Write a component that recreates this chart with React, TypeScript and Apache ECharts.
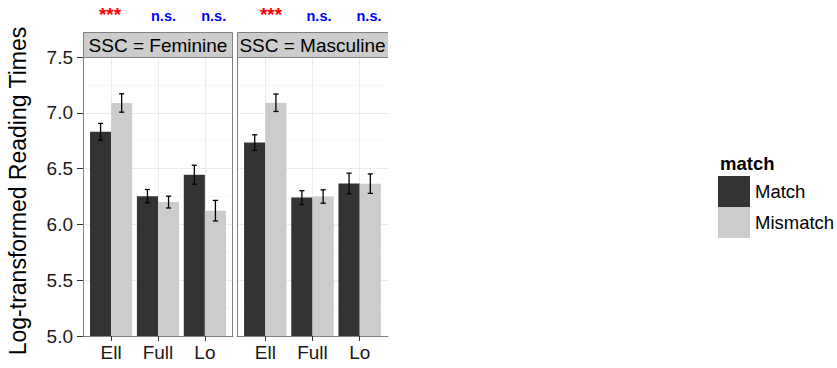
import React, { useEffect, useRef } from "react";
import * as echarts from "echarts";

const categories = ["Ell", "Full", "Lo"];
const panels = ["SSC = Feminine", "SSC = Masculine"];
const feminineMatch = [6.83, 6.253, 6.445];
const feminineMismatch = [7.088, 6.2, 6.123];
const feminineMatchErr = [0.075, 0.06, 0.085];
const feminineMismatchErr = [0.082, 0.053, 0.092];
const masculineMatch = [6.733, 6.24, 6.367];
const masculineMismatch = [7.09, 6.25, 6.365];
const masculineMatchErr = [0.07, 0.062, 0.092];
const masculineMismatchErr = [0.078, 0.06, 0.087];
const sigLabels = [
  ["***", "n.s.", "n.s."],
  ["***", "n.s.", "n.s."],
];
const yTicks = [5.0, 5.5, 6.0, 6.5, 7.0, 7.5];
const yTitle = "Log-transformed Reading Times";

const FONT = "'Liberation Sans', Arial, Helvetica, sans-serif";
const DARK = "#333333";
const LIGHT = "#cccccc";
const BORDER = "#808080";
const Y_MIN = 5.0;

const panelRects = [
  { left: 83, width: 150 },
  { left: 237, width: 151 },
];
const TOP = 57;
const HEIGHT = 279;

function barSeries(name: string, values: number[], color: string, offset: number, idx: number) {
  return {
    type: "custom",
    name,
    xAxisIndex: idx,
    yAxisIndex: idx,
    clip: true,
    itemStyle: { color },
    encode: { x: 0, y: 1 },
    data: values.map((v, i) => [i + 1, v]),
    renderItem: (params: any, api: any) => {
      const x = api.value(0);
      const v = api.value(1);
      const a = api.coord([x + offset - 0.225, v]);
      const b = api.coord([x + offset + 0.225, Y_MIN]);
      return {
        type: "rect",
        shape: { x: a[0], y: a[1], width: b[0] - a[0], height: b[1] - a[1] },
        style: { fill: color },
      };
    },
  };
}

function errSeries(values: number[], errs: number[], offset: number, idx: number) {
  return {
    type: "custom",
    xAxisIndex: idx,
    yAxisIndex: idx,
    z: 5,
    encode: { x: 0, y: [1, 2] },
    data: values.map((v, i) => [i + 1, v - errs[i], v + errs[i]]),
    renderItem: (params: any, api: any) => {
      const x = api.value(0) + offset;
      const lo = api.coord([x, api.value(1)]);
      const hi = api.coord([x, api.value(2)]);
      const c1 = api.coord([x - 0.055, api.value(1)]);
      const c2 = api.coord([x + 0.055, api.value(1)]);
      const c3 = api.coord([x - 0.055, api.value(2)]);
      const c4 = api.coord([x + 0.055, api.value(2)]);
      const st = { stroke: "#000", lineWidth: 1.3 };
      return {
        type: "group",
        children: [
          { type: "line", shape: { x1: lo[0], y1: lo[1], x2: hi[0], y2: hi[1] }, style: st },
          { type: "line", shape: { x1: c1[0], y1: c1[1], x2: c2[0], y2: c2[1] }, style: st },
          { type: "line", shape: { x1: c3[0], y1: c3[1], x2: c4[0], y2: c4[1] }, style: st },
        ],
      };
    },
  };
}

export default function App() {
  const ref = useRef<HTMLDivElement>(null);
  useEffect(() => {
    if (!ref.current) return;
    const chart = echarts.init(ref.current, null, { renderer: "svg" });

    const grids = panelRects.map((p) => ({ left: p.left, top: TOP, width: p.width, height: HEIGHT }));
    const xAxes = panelRects.map((p, i) => ({
      type: "value",
      gridIndex: i,
      min: 0.4,
      max: 3.6,
      axisLine: { show: true, onZero: false, lineStyle: { color: BORDER, width: 1 } },
      axisTick: { show: true, customValues: [1, 2, 3], length: 5, lineStyle: { color: "#333", width: 1 } },
      axisLabel: {
        show: true,
        customValues: [1, 2, 3],
        formatter: (v: number) => categories[Math.round(v) - 1],
        fontSize: 19,
        fontFamily: FONT,
        color: "#1a1a1a",
        margin: 7,
      },
      splitLine: { show: true, lineStyle: { color: "#ebebeb", width: 1 } },
    }));
    const yAxes = panelRects.map((p, i) => ({
      type: "value",
      gridIndex: i,
      min: yTicks[0],
      max: yTicks[yTicks.length - 1],
      interval: 0.5,
      axisLine: { show: true, lineStyle: { color: BORDER, width: 1 } },
      axisTick: { show: i === 0, length: 6, lineStyle: { color: "#333", width: 1 } },
      axisLabel: {
        show: i === 0,
        fontSize: 19,
        fontFamily: FONT,
        color: "#1a1a1a",
        margin: 10,
        formatter: (v: number) => v.toFixed(1),
      },
      splitLine: { show: true, lineStyle: { color: "#ebebeb", width: 1 } },
      minorTick: { show: false, splitNumber: 2 },
      minorSplitLine: { show: true, lineStyle: { color: "#f6f6f6", width: 1 } },
    }));

    const series: any[] = [
      barSeries("Match", feminineMatch, DARK, -0.225, 0),
      barSeries("Mismatch", feminineMismatch, LIGHT, 0.225, 0),
      barSeries("Match", masculineMatch, DARK, -0.225, 1),
      barSeries("Mismatch", masculineMismatch, LIGHT, 0.225, 1),
      errSeries(feminineMatch, feminineMatchErr, -0.225, 0),
      errSeries(feminineMismatch, feminineMismatchErr, 0.225, 0),
      errSeries(masculineMatch, masculineMatchErr, -0.225, 1),
      errSeries(masculineMismatch, masculineMismatchErr, 0.225, 1),
    ];

    const sigX = [
      [110, 163.5, 213.7],
      [271, 319, 369],
    ];
    const graphics: any[] = [];
    graphics.push({
      type: "text",
      x: 18,
      y: 191,
      rotation: Math.PI / 2,
      style: {
        text: yTitle,
        fontSize: 23,
        fontFamily: FONT,
        fill: "#000",
        align: "center",
        verticalAlign: "middle",
      },
    });
    panelRects.forEach((p, i) => {
      graphics.push({
        type: "rect",
        shape: { x: p.left, y: 32, width: p.width, height: 25 },
        style: { fill: LIGHT, stroke: null },
        z: 10,
      });
      graphics.push({
        type: "text",
        x: p.left + p.width / 2,
        y: 45,
        style: {
          text: panels[i],
          fontSize: 19,
          fontFamily: FONT,
          fill: "#000",
          align: "center",
          verticalAlign: "middle",
        },
        z: 11,
      });
      sigLabels[i].forEach((s, j) => {
        const isStar = s === "***";
        graphics.push({
          type: "text",
          x: sigX[i][j],
          y: isStar ? 24 : 23,
          style: {
            text: s,
            fontSize: isStar ? 19 : 14.5,
            fontWeight: "bold",
            fontFamily: FONT,
            fill: isStar ? "#ff0000" : "#0000ff",
            align: "center",
            verticalAlign: "bottom",
          },
        });
      });
    });
    graphics.push({
      type: "polyline",
      shape: { points: [[83.5, 57.5], [83.5, 32.5], [232.5, 32.5], [232.5, 336]] },
      style: { stroke: BORDER, fill: null, lineWidth: 1 },
      z: 12,
    });
    graphics.push({
      type: "line",
      shape: { x1: 83, y1: 57.5, x2: 233, y2: 57.5 },
      style: { stroke: BORDER, lineWidth: 1 },
      z: 12,
    });
    graphics.push({
      type: "polyline",
      shape: { points: [[388, 32.5], [237.5, 32.5], [237.5, 57.5], [388, 57.5]] },
      style: { stroke: BORDER, fill: null, lineWidth: 1 },
      z: 12,
    });
    graphics.push({
      type: "text",
      x: 720,
      y: 163,
      style: {
        text: "match",
        fontSize: 18.5,
        fontWeight: "bold",
        fontFamily: FONT,
        fill: "#000",
        align: "left",
        verticalAlign: "middle",
      },
    });

    chart.setOption({
      animation: false,
      backgroundColor: "#ffffff",
      grid: grids,
      xAxis: xAxes,
      yAxis: yAxes,
      legend: {
        data: ["Match", "Mismatch"],
        orient: "vertical",
        left: 718,
        top: 176,
        padding: 0,
        itemWidth: 32,
        itemHeight: 31,
        itemGap: 0,
        icon: "rect",
        selectedMode: false,
        textStyle: { fontSize: 18.5, fontFamily: FONT, color: "#000" },
      },
      series,
      graphic: graphics,
    });
    return () => chart.dispose();
  }, []);
  return (
    <div
      ref={ref}
      style={{ position: "fixed", left: 0, top: 0, width: 837, height: 368, background: "#fff" }}
    />
  );
}
